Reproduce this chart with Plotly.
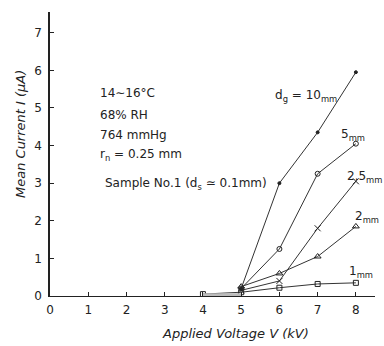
import plotly.graph_objects as go

# Data
v_main = [5, 6, 7, 8]
i_10mm = [0.2, 3.0, 4.35, 5.95]
i_5mm = [0.2, 1.25, 3.25, 4.05]
i_25mm = [0.15, 0.4, 1.8, 3.05]
i_2mm = [0.25, 0.6, 1.05, 1.85]
v_1mm = [4, 5, 6, 7, 8]
i_1mm = [0.05, 0.1, 0.22, 0.32, 0.35]

x_ticks = [0, 1, 2, 3, 4, 5, 6, 7, 8]
y_ticks = [0, 1, 2, 3, 4, 5, 6, 7]

series = [
    (v_main, i_10mm, "dg=10mm", "circle", 3),
    (v_main, i_5mm, "5mm", "circle-open", 5),
    (v_main, i_25mm, "2.5mm", "x-thin-open", 6),
    (v_main, i_2mm, "2mm", "triangle-up-open", 6),
    (v_1mm, i_1mm, "1mm", "square-open", 5),
]

FONT = "DejaVu Sans"
ink = "#222"
W, H = 384, 346
L, R, T, B = 50, 9, 12, 50

fig = go.Figure()
for xs, ys, name, sym, size in series:
    fig.add_trace(go.Scatter(
        x=xs, y=ys, mode="lines+markers", name=name,
        line=dict(color="#333", width=1),
        marker=dict(symbol=sym, size=size, color="#222",
                    line=dict(color="#222", width=1)),
        showlegend=False,
    ))

# grey shading on axis between 4 and 5 kV
fig.add_trace(go.Scatter(x=[4, 5], y=[0.03, 0.03], mode="lines",
                         line=dict(color="#bbb", width=3), showlegend=False))

fig.update_xaxes(
    range=[0, 8.5], tickvals=x_ticks, ticktext=[str(t) for t in x_ticks],
    ticks="inside", ticklen=4, tickcolor=ink, showline=True, linecolor=ink,
    linewidth=1, showgrid=False, zeroline=False, ticklabelstandoff=3,
    tickfont=dict(family=FONT, size=12, color=ink),
)
fig.update_yaxes(
    range=[0, 7.55], tickvals=y_ticks, ticktext=[str(t) for t in y_ticks],
    ticks="inside", ticklen=4, tickcolor=ink, showline=True, linecolor=ink,
    linewidth=1.5, showgrid=False, zeroline=False, ticklabelstandoff=4,
    tickfont=dict(family=FONT, size=12, color=ink),
)

def px2paper(px, py):
    return (px - L) / (W - L - R), (H - B - py) / (H - T - B)

annos = [
    (98, 93, "14∼16°C", "left", 12),
    (98, 115, "68% RH", "left", 12),
    (98, 135, "764 mmHg", "left", 12),
    (98, 155, "r<sub>n</sub> = 0.25 mm", "left", 12),
    (103, 184, "Sample No.1 (d<sub>s</sub> ≃ 0.1mm)", "left", 12),
    (273, 96, "d<sub>g</sub> = 10<sub>mm</sub>", "left", 12),
    (339, 135, "5<sub>mm</sub>", "left", 12),
    (345, 177, "2.5<sub>mm</sub>", "left", 12),
    (353, 217, "2<sub>mm</sub>", "left", 12),
    (347, 272, "1<sub>mm</sub>", "left", 12),
]
for px, py, txt, al, fs in annos:
    ax, ay = px2paper(px, py)
    fig.add_annotation(
        x=ax, y=ay, xref="paper", yref="paper",
        text=txt, showarrow=False, xanchor=al, yanchor="middle",
        font=dict(family=FONT, size=fs, color=ink),
    )

ax, ay = px2paper(235, 333)
fig.add_annotation(
    x=ax, y=ay, xref="paper", yref="paper", text="<i>Applied Voltage V (kV)</i>",
    showarrow=False, font=dict(family=FONT, size=13, color=ink),
    xanchor="center", yanchor="middle",
)
ax, ay = px2paper(20, 134)
fig.add_annotation(
    x=ax, y=ay, xref="paper", yref="paper", text="<i>Mean Current I (μA)</i>",
    showarrow=False, textangle=-90, font=dict(family=FONT, size=13, color=ink),
    xanchor="center", yanchor="middle",
)

fig.update_layout(
    width=W, height=H,
    margin=dict(l=L, r=R, t=T, b=B),
    paper_bgcolor="white", plot_bgcolor="white",
    font=dict(family=FONT, color=ink),
)

fig.write_html("out.html")
